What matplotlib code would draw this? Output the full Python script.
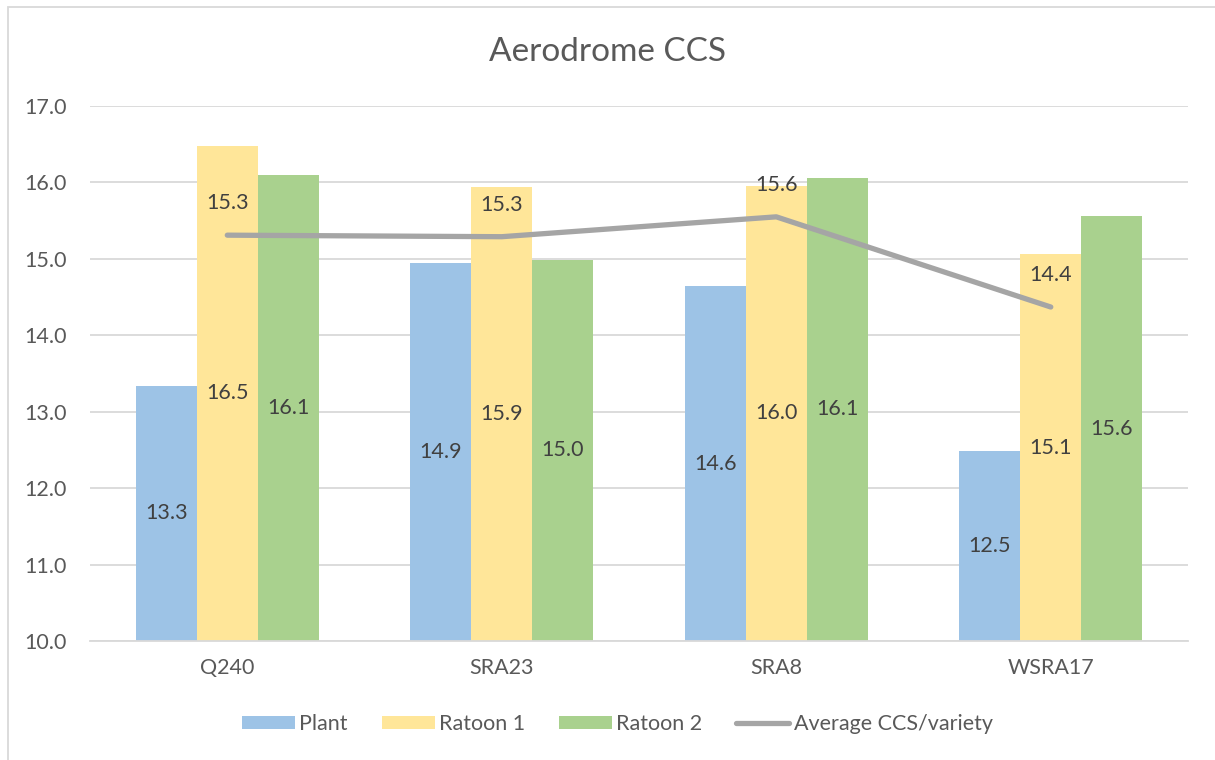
import matplotlib
matplotlib.use("Agg")
import matplotlib.pyplot as plt
import matplotlib.patches as patches
import numpy as np

plt.rcParams["font.family"] = ["Lato", "DejaVu Sans"]

# data
varieties = ["Q240", "SRA23", "SRA8", "WSRA17"]
plant = [13.34, 14.94, 14.64, 12.49]
ratoon1 = [16.48, 15.94, 15.96, 15.06]
ratoon2 = [16.10, 14.99, 16.06, 15.56]
average = [15.31, 15.29, 15.55, 14.37]
series_names = ["Plant", "Ratoon 1", "Ratoon 2"]
series_colors = ["#9DC3E6", "#FFE699", "#A9D18E"]
line_color = "#A5A5A5"
y_min, y_max = 10, 17

fig = plt.figure(figsize=(12.15, 7.6), dpi=100)
ax = fig.add_axes([0.0741, 0.1566, 0.9037, 0.7039])

x = np.arange(len(varieties))
width = 0.222
handles = []
for i, (vals, name, col) in enumerate(zip([plant, ratoon1, ratoon2], series_names, series_colors)):
    xs = x + (i - 1) * width
    heights = [v - y_min for v in vals]
    b = ax.bar(xs, heights, width, bottom=y_min, color=col, label=name, zorder=2)
    handles.append(b)
    for xi, v in zip(xs, vals):
        ax.text(xi, (y_min + v) / 2, f"{v:.1f}", ha="center", va="center",
                fontsize=15.5, color="#404040", zorder=4)

line, = ax.plot(x, average, color=line_color, lw=3.8, solid_capstyle="round",
                label="Average CCS/variety", zorder=3)
handles.append(line)
for xi, v in zip(x, average):
    ax.annotate(f"{v:.1f}", (xi, v), xytext=(0, 23), textcoords="offset points",
                ha="center", va="center", fontsize=15.5, color="#404040", zorder=4)

ax.set_xlim(-0.5, len(varieties) - 0.5)
ax.set_ylim(y_min, y_max)
ticks = np.arange(y_min, y_max + 1, 1.0)
ax.set_yticks(ticks)
ax.set_yticklabels([f"{t:.1f}" for t in ticks])
ax.set_xticks(x)
ax.set_xticklabels(varieties)
ax.tick_params(axis="both", length=0, labelsize=15.5, colors="#595959")
ax.tick_params(axis="y", pad=17)
ax.tick_params(axis="x", pad=12)
ax.grid(axis="y", color="#D9D9D9", lw=1.3, zorder=0)
for s in ["top", "right", "left"]:
    ax.spines[s].set_visible(False)
ax.spines["bottom"].set_color("#D9D9D9")
ax.spines["bottom"].set_linewidth(1.3)

fig.text(0.5, 0.932, "Aerodrome CCS", ha="center", va="center",
         fontsize=24, color="#595959")

leg = fig.legend(handles=handles, loc="center", bbox_to_anchor=(0.508, 0.047), ncol=4,
                 frameon=False, fontsize=15.5, handlelength=2.46, handleheight=0.55,
                 columnspacing=1.58, handletextpad=0.2)
for t in leg.get_texts():
    t.set_color("#595959")

border = patches.Rectangle((8 / 1215, -0.02), 1.05, 0.9908 + 0.02,
                           transform=fig.transFigure, fill=False,
                           edgecolor="#D9D9D9", lw=1.3, clip_on=False)
fig.patches.append(border)

fig.savefig("out.png", dpi=100)
